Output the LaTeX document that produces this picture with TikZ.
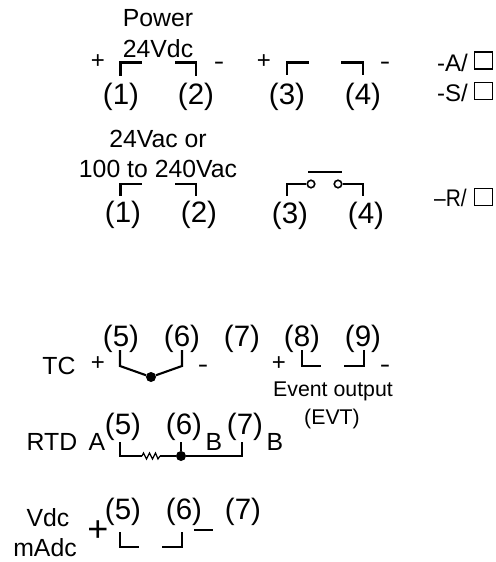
\documentclass[tikz,border=0pt]{standalone}
\usepackage{fontspec}
\setmainfont{Liberation Sans}
\tikzset{
  lbl/.style={inner sep=0pt,yshift=-0.7bp,font=\fontsize{24.8bp}{27bp}\selectfont},
  term/.style={inner sep=0pt,yshift=-2bp,font=\fontsize{29.5bp}{32bp}\selectfont},
  small/.style={inner sep=0pt,font=\fontsize{24bp}{26bp}\selectfont},
  dashsign/.style={inner sep=0pt,xscale=1.3,yshift=-4bp,font=\fontsize{24bp}{26bp}\selectfont},
  evtext/.style={inner sep=0pt,yshift=-1.5bp,font=\fontsize{21.3bp}{23bp}\selectfont},
  wire/.style={line width=2.1bp,line join=miter,line cap=butt},
  chk/.style={draw,line width=1.1bp,minimum width=18bp,minimum height=17bp,inner sep=0pt},
  contact/.style={circle,draw,line width=1.6bp,minimum size=7.5bp,inner sep=0pt,fill=white},
  joint/.style={circle,fill=black,minimum size=10bp,inner sep=0pt},
}
\begin{document}
\begin{tikzpicture}[x=1bp,y=-1bp]
\useasboundingbox (0,0) rectangle (496,562);
% power dc
\node[lbl] (pw) at (158,17) {Power};
\node[lbl] (v24) at (158,48) {24Vdc};
\node[small] (p1) at (98,62) {+};
\node[dashsign] (m1) at (219,62) {-};
\node[term] (t1) at (121,95) {(1)};
\node[term] (t2) at (196,95) {(2)};
\node[term] (t3) at (287,95) {(3)};
\node[term] (t4) at (363,95) {(4)};
\node[small] (p2) at (264,62) {+};
\node[dashsign] (m2) at (385,62) {-};
\coordinate (a1) at (120.5,76); \coordinate (a2) at (120.5,62.5); \coordinate (a3) at (142,62.5);
\coordinate (b1) at (196,76); \coordinate (b2) at (196,62.5); \coordinate (b3) at (175,62.5);
\coordinate (c1) at (287,75); \coordinate (c2) at (287,62.5); \coordinate (c3) at (309,62.5);
\coordinate (d1) at (363,75); \coordinate (d2) at (363,62.5); \coordinate (d3) at (341,62.5);
\draw[wire] (a1)--(a2)--(a3);
\draw[wire] (b1)--(b2)--(b3);
\draw[wire] (c1)--(c2)--(c3);
\draw[wire] (d1)--(d2)--(d3);
% option codes
\node[small,anchor=west] (oa) at (437,63) {-A/};
\node[small,anchor=west] (os) at (437,93) {-S/};
\node[small,anchor=west,xscale=0.87] (or) at (434,198) {–R/};
\node[chk] (ba) at (483.5,60.5) {};
\node[chk] (bs) at (483.5,91) {};
\node[chk] (br) at (483.5,197) {};
% power ac
\node[lbl] (vac) at (158,138) {24Vac or};
\node[lbl] (vac2) at (158,168) {100 to 240Vac};
\node[term] (u1) at (123,213) {(1)};
\node[term] (u2) at (199,213) {(2)};
\node[term] (u3) at (290,214) {(3)};
\node[term] (u4) at (366,214) {(4)};
\coordinate (e1) at (120.5,196); \coordinate (e2) at (120.5,184); \coordinate (e3) at (142,184);
\coordinate (f1) at (196,196); \coordinate (f2) at (196,184); \coordinate (f3) at (175,184);
\draw[wire] (e1)--(e2)--(e3);
\draw[wire] (f1)--(f2)--(f3);
\node[contact] (k1) at (311,184) {};
\node[contact] (k2) at (338,184) {};
\coordinate (g1) at (287,196); \coordinate (g2) at (287,184);
\coordinate (h1) at (363,196); \coordinate (h2) at (363,184);
\coordinate (s1) at (308,172); \coordinate (s2) at (342,172);
\draw[wire] (g1)--(g2)--(k1);
\draw[wire] (h1)--(h2)--(k2);
\draw[wire] (s1)--(s2);
% TC row
\node[lbl] (tc) at (59,365) {TC};
\node[small] (p3) at (98,364) {+};
\node[dashsign] (m3) at (203,365) {-};
\node[term] (n5) at (121,337) {(5)};
\node[term] (n6) at (182,337) {(6)};
\node[term] (n7) at (242,337) {(7)};
\node[term] (n8) at (302,337) {(8)};
\node[term] (n9) at (363,337) {(9)};
\node[small] (p4) at (279,364) {+};
\node[dashsign] (m4) at (385,365) {-};
\node[joint] (j1) at (151,377) {};
\coordinate (i1) at (120,350); \coordinate (i2) at (120,366);
\coordinate (i3) at (182,350); \coordinate (i4) at (182,366);
\draw[wire] (i1)--(i2)--(j1)--(i4)--(i3);
\coordinate (l1) at (302,350); \coordinate (l2) at (302,366); \coordinate (l3) at (321,366);
\coordinate (o1) at (364,350); \coordinate (o2) at (364,366); \coordinate (o3) at (344,366);
\draw[wire] (l1)--(l2)--(l3);
\draw[wire] (o1)--(o2)--(o3);
\node[evtext] (ev) at (333,390) {Event output};
\node[evtext] (evt) at (332,417) {(EVT)};
% RTD row
\node[lbl] (rtd) at (52,441) {RTD};
\node[lbl] (ra) at (97,441) {A};
\node[term] (r5) at (123,425) {(5)};
\node[term] (r6) at (184,425) {(6)};
\node[lbl] (rb1) at (214,441) {B};
\node[term] (r7) at (245,425) {(7)};
\node[lbl] (rb2) at (275,441) {B};
\node[joint] (j2) at (181,456) {};
\coordinate (q1) at (120,442); \coordinate (q2) at (120,456);
\coordinate (q3) at (142,456); \coordinate (q4) at (160,456);
\coordinate (q5) at (242,442); \coordinate (q6) at (242,456);
\coordinate (q7) at (181,442);
\draw[wire] (q1)--(q2)--(q3);
\draw[line width=1.2bp] (q3)--(143.5,453)--(146.5,459)--(149.5,453)--(152.5,459)--(155.5,453)--(158,459)--(q4);
\draw[wire] (q4)--(j2)--(q6)--(q5);
\draw[wire] (q7)--(j2);
% Vdc row
\node[lbl] (vd) at (48,517) {Vdc};
\node[lbl] (ma) at (45,547) {mAdc};
\node[term,yshift=2bp,font=\fontsize{36bp}{38bp}\selectfont] (p5) at (98,531) {+};
\node[term] (w5) at (123,510) {(5)};
\node[term] (w6) at (184,510) {(6)};
\node[term] (w7) at (243,510) {(7)};
\coordinate (x1) at (120,532); \coordinate (x2) at (120,547); \coordinate (x3) at (139,547);
\coordinate (y1) at (182,532); \coordinate (y2) at (182,547); \coordinate (y3) at (162,547);
\coordinate (z1) at (194,530); \coordinate (z2) at (213,530);
\draw[wire] (x1)--(x2)--(x3);
\draw[wire] (y1)--(y2)--(y3);
\draw[line width=1.4bp] (z1)--(z2);
\end{tikzpicture}
\end{document}
